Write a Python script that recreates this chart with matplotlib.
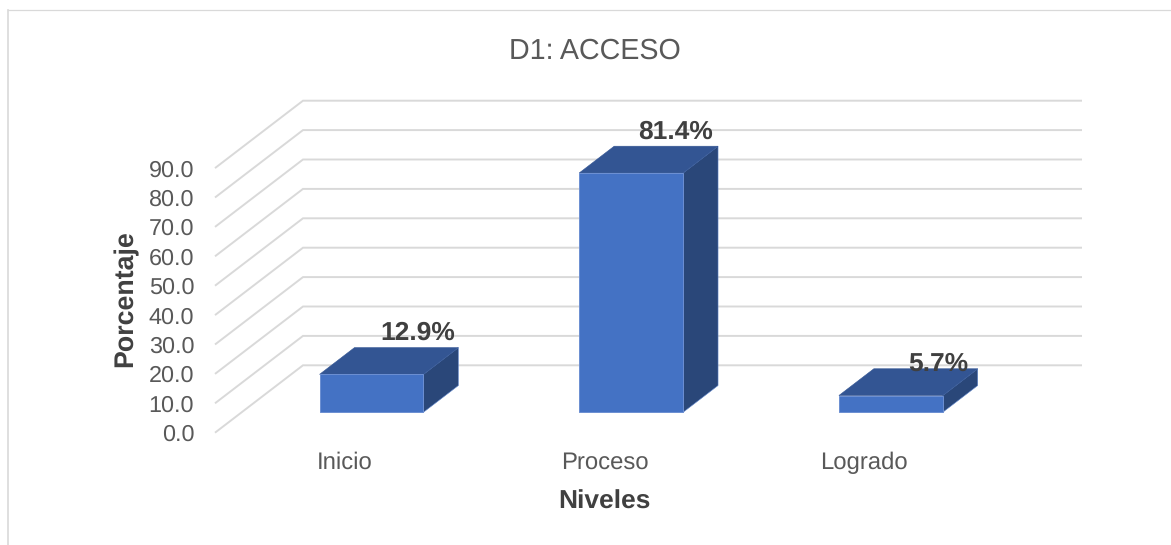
import numpy as np
import matplotlib
matplotlib.use('Agg')
import matplotlib.pyplot as plt
from matplotlib.patches import Polygon

plt.rcParams['font.family'] = ['Liberation Sans', 'DejaVu Sans']
plt.rcParams['text.hinting'] = 'no_hinting'

# data
categories = ['Inicio', 'Proceso', 'Logrado']
values = [12.9, 81.4, 5.7]
value_labels = ['12.9%', '81.4%', '5.7%']
y_ticks = [0, 10, 20, 30, 40, 50, 60, 70, 80, 90]

W, H = 1171, 545
dpi = 100

# one unit of depth in data units (floor goes 88 px right, 67 px up)
depth_x = 88 / 259.7
depth_y = 67.4 / 2.94
bar_half = 0.2
d_front, d_back = 0.303, 0.70


def proj(x, y, d):
    return (x + d * depth_x, y + d * depth_y)


fig = plt.figure(figsize=(W / dpi, H / dpi), dpi=dpi)

# frame of the chart, only left and top are inside the crop
fig.add_artist(plt.Line2D([8.2 / W, 8.2 / W], [0, 1 - 9.5 / H], color='#D9D9D9', lw=1.2))
fig.add_artist(plt.Line2D([8.2 / W, 1], [1 - 9.5 / H, 1 - 9.5 / H], color='#D9D9D9', lw=0.9))

left, right, bottom, top = 215, 1082, 432.7, 100.7
ax = fig.add_axes([left / W, 1 - bottom / H, (right - left) / W, (bottom - top) / H])
ax.set_xlim(-0.5, 2.5 + depth_x)
ax.set_ylim(0, 90 + depth_y)
for s in ax.spines.values():
    s.set_visible(False)
ax.patch.set_alpha(0)

# gridlines, side wall then back wall
for t in y_ticks:
    p0 = proj(-0.5, t, 0)
    p1 = proj(-0.5, t, 1)
    p2 = proj(2.5, t, 1)
    ax.plot([p0[0], p1[0], p2[0]], [p0[1], p1[1], p2[1]], color='#D9D9D9',
            lw=1.4, solid_joinstyle='miter', solid_capstyle='butt', zorder=1, clip_on=False)

for i, v in enumerate(values):
    x0, x1 = i - bar_half, i + bar_half
    front = [proj(x0, 0, d_front), proj(x1, 0, d_front), proj(x1, v, d_front), proj(x0, v, d_front)]
    side = [proj(x1, 0, d_front), proj(x1, 0, d_back), proj(x1, v, d_back), proj(x1, v, d_front)]
    roof = [proj(x0, v, d_front), proj(x1, v, d_front), proj(x1, v, d_back), proj(x0, v, d_back)]
    ax.add_patch(Polygon(side, fc='#2A4779', ec='#5F86CC', lw=0.4, zorder=3))
    ax.add_patch(Polygon(roof, fc='#335593', ec='#335593', lw=0.4, zorder=3))
    ax.add_patch(Polygon(front, fc='#4472C4', ec='#6C8FD2', lw=0.7, zorder=4))

# data labels sit over the back of the bar, the small one is pushed down
label_shift = [(11, 15), (9, 14), (12, 5)]
for i, v in enumerate(values):
    ax.annotate(value_labels[i], xy=proj(i, v, d_back), xytext=label_shift[i],
                textcoords='offset pixels', ha='center', va='center',
                fontsize=19, fontweight='bold', color='#404040', zorder=6)

ax.set_yticks(y_ticks)
ax.set_yticklabels(['%.1f' % t for t in y_ticks])
ax.set_xticks(range(len(categories)))
ax.set_xticklabels(categories)
ax.tick_params(axis='y', length=0, pad=15, labelsize=16.8, labelcolor='#595959')
ax.tick_params(axis='x', length=0, pad=13.5, labelsize=17.2, labelcolor='#595959')
ax.set_xlim(-0.5, 2.5 + depth_x)

fig.text(594.5 / W, 1 - 51 / H, 'D1: ACCESO', ha='center', va='center',
         fontsize=20.6, color='#595959')
fig.text(604 / W, 1 - 502 / H, 'Niveles', ha='center', va='center',
         fontsize=19, fontweight='bold', color='#404040')
fig.text(126 / W, 1 - 298.5 / H, 'Porcentaje', ha='center', va='center', rotation=90,
         fontsize=19.3, fontweight='bold', color='#404040')

fig.savefig('out.png', dpi=dpi)
